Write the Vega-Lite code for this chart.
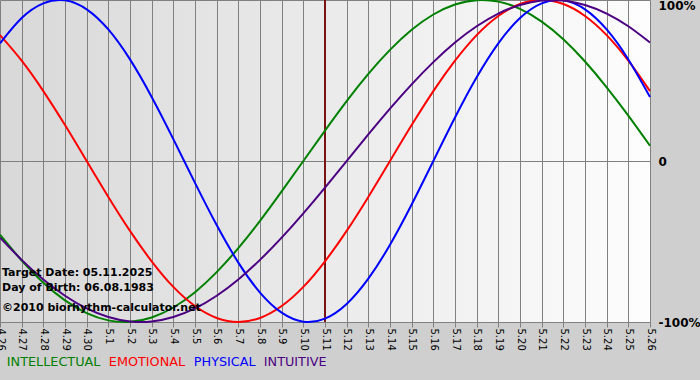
{
  "$schema": "https://vega.github.io/schema/vega-lite/v6.json",
  "width": 650,
  "height": 322,
  "autosize": {"type": "none"},
  "padding": {"left": 0, "top": 0, "right": 50, "bottom": 58},
  "background": "#cfcfcf",
  "view": {
    "stroke": null,
    "fill": {"gradient": "linear", "x1": 0, "y1": 0, "x2": 1, "y2": 0, "stops": [{"offset": 0, "color": "#d8d8d8"}, {"offset": 1, "color": "#fdfdfd"}]}
  },
  "config": {"font": "DejaVu Sans"},
  "datasets": {
    "bio": [
      {"date": "2025-04-26", "series": "INTELLECTUAL", "v": -0.458},
      {"date": "2025-04-27", "series": "INTELLECTUAL", "v": -0.618},
      {"date": "2025-04-28", "series": "INTELLECTUAL", "v": -0.756},
      {"date": "2025-04-29", "series": "INTELLECTUAL", "v": -0.866},
      {"date": "2025-04-30", "series": "INTELLECTUAL", "v": -0.945},
      {"date": "2025-05-01", "series": "INTELLECTUAL", "v": -0.990},
      {"date": "2025-05-02", "series": "INTELLECTUAL", "v": -0.999},
      {"date": "2025-05-03", "series": "INTELLECTUAL", "v": -0.972},
      {"date": "2025-05-04", "series": "INTELLECTUAL", "v": -0.910},
      {"date": "2025-05-05", "series": "INTELLECTUAL", "v": -0.815},
      {"date": "2025-05-06", "series": "INTELLECTUAL", "v": -0.690},
      {"date": "2025-05-07", "series": "INTELLECTUAL", "v": -0.541},
      {"date": "2025-05-08", "series": "INTELLECTUAL", "v": -0.372},
      {"date": "2025-05-09", "series": "INTELLECTUAL", "v": -0.189},
      {"date": "2025-05-10", "series": "INTELLECTUAL", "v": 0},
      {"date": "2025-05-11", "series": "INTELLECTUAL", "v": 0.189},
      {"date": "2025-05-12", "series": "INTELLECTUAL", "v": 0.372},
      {"date": "2025-05-13", "series": "INTELLECTUAL", "v": 0.541},
      {"date": "2025-05-14", "series": "INTELLECTUAL", "v": 0.690},
      {"date": "2025-05-15", "series": "INTELLECTUAL", "v": 0.815},
      {"date": "2025-05-16", "series": "INTELLECTUAL", "v": 0.910},
      {"date": "2025-05-17", "series": "INTELLECTUAL", "v": 0.972},
      {"date": "2025-05-18", "series": "INTELLECTUAL", "v": 0.999},
      {"date": "2025-05-19", "series": "INTELLECTUAL", "v": 0.990},
      {"date": "2025-05-20", "series": "INTELLECTUAL", "v": 0.945},
      {"date": "2025-05-21", "series": "INTELLECTUAL", "v": 0.866},
      {"date": "2025-05-22", "series": "INTELLECTUAL", "v": 0.756},
      {"date": "2025-05-23", "series": "INTELLECTUAL", "v": 0.618},
      {"date": "2025-05-24", "series": "INTELLECTUAL", "v": 0.458},
      {"date": "2025-05-25", "series": "INTELLECTUAL", "v": 0.282},
      {"date": "2025-05-26", "series": "INTELLECTUAL", "v": 0.095},
      {"date": "2025-04-26", "series": "EMOTIONAL", "v": 0.782},
      {"date": "2025-04-27", "series": "EMOTIONAL", "v": 0.623},
      {"date": "2025-04-28", "series": "EMOTIONAL", "v": 0.434},
      {"date": "2025-04-29", "series": "EMOTIONAL", "v": 0.223},
      {"date": "2025-04-30", "series": "EMOTIONAL", "v": 0},
      {"date": "2025-05-01", "series": "EMOTIONAL", "v": -0.223},
      {"date": "2025-05-02", "series": "EMOTIONAL", "v": -0.434},
      {"date": "2025-05-03", "series": "EMOTIONAL", "v": -0.623},
      {"date": "2025-05-04", "series": "EMOTIONAL", "v": -0.782},
      {"date": "2025-05-05", "series": "EMOTIONAL", "v": -0.901},
      {"date": "2025-05-06", "series": "EMOTIONAL", "v": -0.975},
      {"date": "2025-05-07", "series": "EMOTIONAL", "v": -1},
      {"date": "2025-05-08", "series": "EMOTIONAL", "v": -0.975},
      {"date": "2025-05-09", "series": "EMOTIONAL", "v": -0.901},
      {"date": "2025-05-10", "series": "EMOTIONAL", "v": -0.782},
      {"date": "2025-05-11", "series": "EMOTIONAL", "v": -0.623},
      {"date": "2025-05-12", "series": "EMOTIONAL", "v": -0.434},
      {"date": "2025-05-13", "series": "EMOTIONAL", "v": -0.223},
      {"date": "2025-05-14", "series": "EMOTIONAL", "v": 0},
      {"date": "2025-05-15", "series": "EMOTIONAL", "v": 0.223},
      {"date": "2025-05-16", "series": "EMOTIONAL", "v": 0.434},
      {"date": "2025-05-17", "series": "EMOTIONAL", "v": 0.623},
      {"date": "2025-05-18", "series": "EMOTIONAL", "v": 0.782},
      {"date": "2025-05-19", "series": "EMOTIONAL", "v": 0.901},
      {"date": "2025-05-20", "series": "EMOTIONAL", "v": 0.975},
      {"date": "2025-05-21", "series": "EMOTIONAL", "v": 1},
      {"date": "2025-05-22", "series": "EMOTIONAL", "v": 0.975},
      {"date": "2025-05-23", "series": "EMOTIONAL", "v": 0.901},
      {"date": "2025-05-24", "series": "EMOTIONAL", "v": 0.782},
      {"date": "2025-05-25", "series": "EMOTIONAL", "v": 0.623},
      {"date": "2025-05-26", "series": "EMOTIONAL", "v": 0.434},
      {"date": "2025-04-26", "series": "PHYSICAL", "v": 0.731},
      {"date": "2025-04-27", "series": "PHYSICAL", "v": 0.888},
      {"date": "2025-04-28", "series": "PHYSICAL", "v": 0.979},
      {"date": "2025-04-29", "series": "PHYSICAL", "v": 0.998},
      {"date": "2025-04-30", "series": "PHYSICAL", "v": 0.942},
      {"date": "2025-05-01", "series": "PHYSICAL", "v": 0.817},
      {"date": "2025-05-02", "series": "PHYSICAL", "v": 0.631},
      {"date": "2025-05-03", "series": "PHYSICAL", "v": 0.398},
      {"date": "2025-05-04", "series": "PHYSICAL", "v": 0.136},
      {"date": "2025-05-05", "series": "PHYSICAL", "v": -0.136},
      {"date": "2025-05-06", "series": "PHYSICAL", "v": -0.398},
      {"date": "2025-05-07", "series": "PHYSICAL", "v": -0.631},
      {"date": "2025-05-08", "series": "PHYSICAL", "v": -0.817},
      {"date": "2025-05-09", "series": "PHYSICAL", "v": -0.942},
      {"date": "2025-05-10", "series": "PHYSICAL", "v": -0.998},
      {"date": "2025-05-11", "series": "PHYSICAL", "v": -0.979},
      {"date": "2025-05-12", "series": "PHYSICAL", "v": -0.888},
      {"date": "2025-05-13", "series": "PHYSICAL", "v": -0.731},
      {"date": "2025-05-14", "series": "PHYSICAL", "v": -0.520},
      {"date": "2025-05-15", "series": "PHYSICAL", "v": -0.270},
      {"date": "2025-05-16", "series": "PHYSICAL", "v": 0},
      {"date": "2025-05-17", "series": "PHYSICAL", "v": 0.270},
      {"date": "2025-05-18", "series": "PHYSICAL", "v": 0.520},
      {"date": "2025-05-19", "series": "PHYSICAL", "v": 0.731},
      {"date": "2025-05-20", "series": "PHYSICAL", "v": 0.888},
      {"date": "2025-05-21", "series": "PHYSICAL", "v": 0.979},
      {"date": "2025-05-22", "series": "PHYSICAL", "v": 0.998},
      {"date": "2025-05-23", "series": "PHYSICAL", "v": 0.942},
      {"date": "2025-05-24", "series": "PHYSICAL", "v": 0.817},
      {"date": "2025-05-25", "series": "PHYSICAL", "v": 0.631},
      {"date": "2025-05-26", "series": "PHYSICAL", "v": 0.398},
      {"date": "2025-04-26", "series": "INTUITIVE", "v": -0.476},
      {"date": "2025-04-27", "series": "INTUITIVE", "v": -0.614},
      {"date": "2025-04-28", "series": "INTUITIVE", "v": -0.736},
      {"date": "2025-04-29", "series": "INTUITIVE", "v": -0.837},
      {"date": "2025-04-30", "series": "INTUITIVE", "v": -0.916},
      {"date": "2025-05-01", "series": "INTUITIVE", "v": -0.969},
      {"date": "2025-05-02", "series": "INTUITIVE", "v": -0.997},
      {"date": "2025-05-03", "series": "INTUITIVE", "v": -0.997},
      {"date": "2025-05-04", "series": "INTUITIVE", "v": -0.969},
      {"date": "2025-05-05", "series": "INTUITIVE", "v": -0.916},
      {"date": "2025-05-06", "series": "INTUITIVE", "v": -0.837},
      {"date": "2025-05-07", "series": "INTUITIVE", "v": -0.736},
      {"date": "2025-05-08", "series": "INTUITIVE", "v": -0.614},
      {"date": "2025-05-09", "series": "INTUITIVE", "v": -0.476},
      {"date": "2025-05-10", "series": "INTUITIVE", "v": -0.325},
      {"date": "2025-05-11", "series": "INTUITIVE", "v": -0.165},
      {"date": "2025-05-12", "series": "INTUITIVE", "v": 0},
      {"date": "2025-05-13", "series": "INTUITIVE", "v": 0.165},
      {"date": "2025-05-14", "series": "INTUITIVE", "v": 0.325},
      {"date": "2025-05-15", "series": "INTUITIVE", "v": 0.476},
      {"date": "2025-05-16", "series": "INTUITIVE", "v": 0.614},
      {"date": "2025-05-17", "series": "INTUITIVE", "v": 0.736},
      {"date": "2025-05-18", "series": "INTUITIVE", "v": 0.837},
      {"date": "2025-05-19", "series": "INTUITIVE", "v": 0.916},
      {"date": "2025-05-20", "series": "INTUITIVE", "v": 0.969},
      {"date": "2025-05-21", "series": "INTUITIVE", "v": 0.997},
      {"date": "2025-05-22", "series": "INTUITIVE", "v": 0.997},
      {"date": "2025-05-23", "series": "INTUITIVE", "v": 0.969},
      {"date": "2025-05-24", "series": "INTUITIVE", "v": 0.916},
      {"date": "2025-05-25", "series": "INTUITIVE", "v": 0.837},
      {"date": "2025-05-26", "series": "INTUITIVE", "v": 0.736}
    ]
  },
  "layer": [
    {
      "data": {"values": [{"date": "2025-05-11"}]},
      "mark": {"type": "rule", "color": "#7a1414", "strokeWidth": 2},
      "encoding": {"x": {"field": "date", "type": "temporal"}}
    },
    {
      "data": {"name": "bio"},
      "mark": {"type": "line", "interpolate": "natural", "strokeWidth": 2},
      "encoding": {
        "x": {
          "field": "date",
          "type": "temporal",
          "scale": {"type": "utc", "nice": false},
          "axis": {
            "title": null,
            "labelExpr": "utcFormat(datum.value, '%-m.%-d')",
            "tickCount": {"interval": "day", "step": 1},
            "labelAngle": 90,
            "labelFontSize": 10,
            "labelColor": "#000000",
            "labelPadding": 1,
            "labelOverlap": false,
            "labelFlush": false,
            "labelBound": false,
            "grid": true,
            "gridColor": "#808080",
            "gridOpacity": 1,
            "domainColor": "#808080",
            "tickColor": "#808080",
            "tickSize": 5
          }
        },
        "y": {
          "field": "v",
          "type": "quantitative",
          "scale": {"domain": [-1, 1], "nice": false, "zero": false},
          "axis": {
            "orient": "right",
            "title": null,
            "values": [-1, 0, 1],
            "labelExpr": "datum.value == 1 ? '100%' : datum.value == 0 ? '0' : '-100%'",
            "ticks": false,
            "domain": false,
            "labelFontSize": 12,
            "labelFontWeight": "bold",
            "labelColor": "#000000",
            "labelPadding": 8,
            "labelFlush": false,
            "labelBaseline": {"condition": {"test": "datum.value == 1", "value": "top"}, "value": "middle"},
            "grid": true,
            "gridColor": "#808080",
            "gridOpacity": 1
          }
        },
        "color": {
          "field": "series",
          "type": "nominal",
          "sort": ["INTELLECTUAL", "EMOTIONAL", "PHYSICAL", "INTUITIVE"],
          "scale": {
            "domain": ["INTELLECTUAL", "EMOTIONAL", "PHYSICAL", "INTUITIVE"],
            "range": ["#008000", "#ff0000", "#0000ff", "#4b0082"]
          },
          "legend": {
            "title": null,
            "orient": "none",
            "legendX": 7,
            "legendY": 355,
            "direction": "horizontal",
            "padding": 0,
            "symbolSize": 0,
            "symbolOpacity": 0,
            "symbolStrokeWidth": 0,
            "labelOffset": -13,
            "columnPadding": 7,
            "labelFontSize": 12.8,
            "labelLimit": 0,
            "encode": {"labels": {"update": {"fill": {"scale": "color", "field": "value"}}}}
          }
        }
      }
    },
    {
      "data": {"values": [{}]},
      "mark": {"type": "text", "align": "left", "baseline": "middle", "fontWeight": "bold", "fontSize": 11, "dx": 2, "color": "#000000"},
      "encoding": {
        "x": {"datum": {"year": 2025, "month": 4, "date": 26, "utc": true}, "type": "temporal"},
        "y": {"datum": -0.693, "type": "quantitative"},
        "text": {"value": "Target Date: 05.11.2025"}
      }
    },
    {
      "data": {"values": [{}]},
      "mark": {"type": "text", "align": "left", "baseline": "middle", "fontWeight": "bold", "fontSize": 11, "dx": 2, "color": "#000000"},
      "encoding": {
        "x": {"datum": {"year": 2025, "month": 4, "date": 26, "utc": true}, "type": "temporal"},
        "y": {"datum": -0.79, "type": "quantitative"},
        "text": {"value": "Day of Birth: 06.08.1983"}
      }
    },
    {
      "data": {"values": [{}]},
      "mark": {"type": "text", "align": "left", "baseline": "middle", "fontWeight": "bold", "fontSize": 11, "dx": 2, "color": "#000000"},
      "encoding": {
        "x": {"datum": {"year": 2025, "month": 4, "date": 26, "utc": true}, "type": "temporal"},
        "y": {"datum": -0.911, "type": "quantitative"},
        "text": {"value": "©2010 biorhythm-calculator.net"}
      }
    }
  ]
}
